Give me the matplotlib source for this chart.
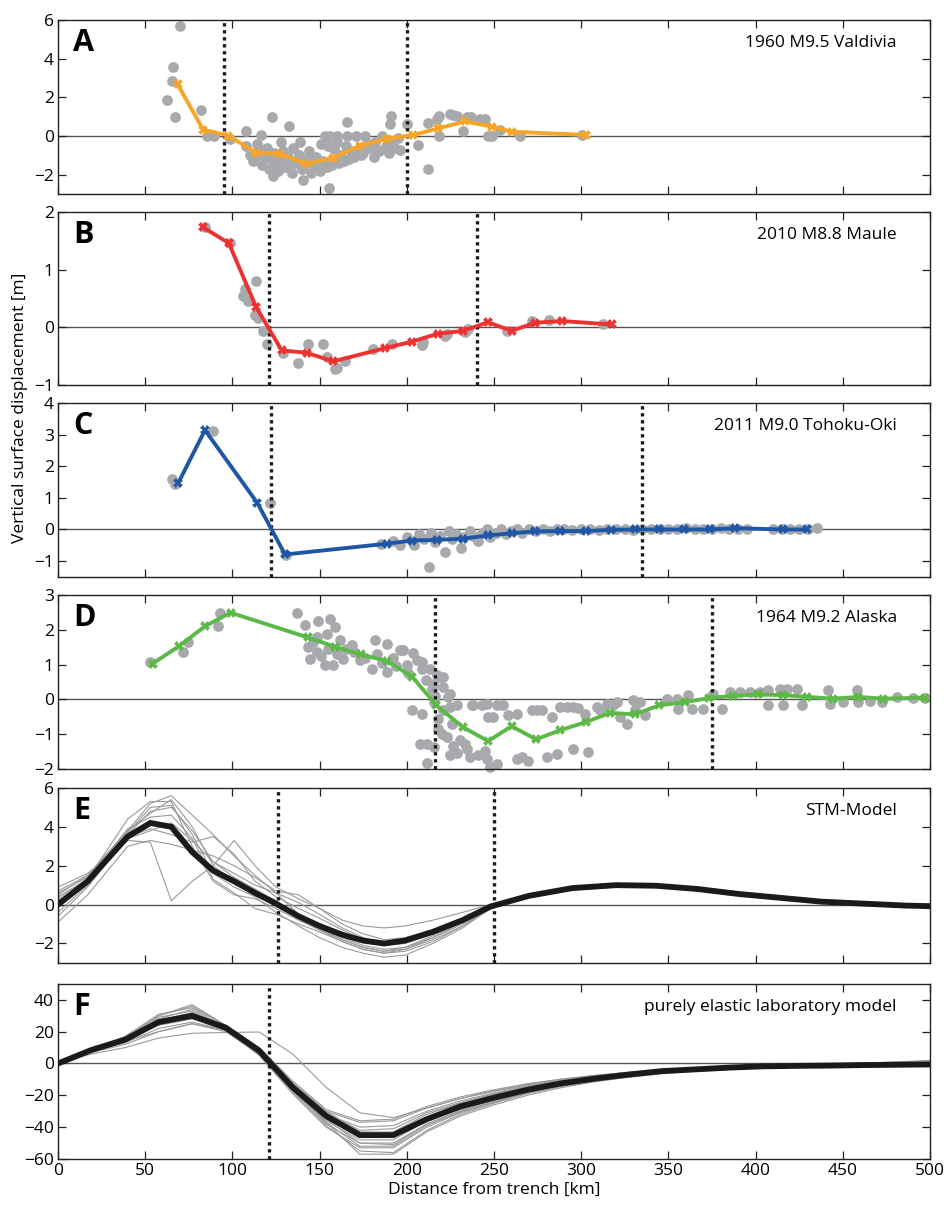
import matplotlib
matplotlib.use('Agg')
import matplotlib.pyplot as plt

plt.rcParams['font.family'] = ['Open Sans', 'DejaVu Sans']

# Panel A - 1960 M9.5 Valdivia
A_line_x = [68.6, 83.3, 97.7, 113.5, 127.3, 142.2, 157.9, 173.2, 188.5, 203.7, 218, 233.4, 248.7, 260.1, 303]
A_line_y = [2.67, 0.32, 0.02, -0.87, -0.92, -1.44, -1.13, -0.5, -0.15, 0.05, 0.39, 0.75, 0.48, 0.22, 0.05]
A_dots_x = [70, 65.8, 65.4, 62.7, 67.3, 82, 85.3, 89.4, 98.6, 107.8, 116.2, 122.5, 132.5, 165.5, 190.8, 190.4,
            200.3, 212, 155.6, 140.7, 123.5,
            108, 110, 112, 114, 116, 117, 118, 120, 121, 122, 124, 125, 127, 128, 129, 130, 132, 134, 135, 136,
            138, 139, 140, 142, 144, 145, 147, 148, 150, 151, 152, 153, 155, 156, 157, 158, 160, 160, 162, 164,
            165, 166, 168, 170, 171, 173, 175, 176, 178, 180, 182, 184, 186, 188, 190, 191, 193, 195,
            196.1, 206.6, 212.3, 217.1, 218.6, 218.6, 224.8, 226.7, 229, 232.4, 234.3, 236.6, 242, 244.8, 246.4,
            248.7, 253.4, 264.9, 300.3,
            113, 119, 126, 133, 141, 146, 154, 161, 167, 174, 181, 187]
A_dots_y = [5.7, 3.55, 2.84, 1.85, 0.99, 1.33, 0.02, 0.0, -0.15, 0.27, 0.05, 0.99, 0.53, 0.7, 1.04, 0.62,
            0.62, -1.69, -2.68, -2.29, -2.09,
            -0.5, -1.0, -1.3, -0.4, -0.7, -1.5, -1.1, -0.6, -1.7, -1.2, -0.9, -1.5, -1.3, -0.3, -0.8, -1.6, -1.1,
            -1.9, -0.6, -1.4, -1.0, -0.3, -1.7, -1.2, -0.8, -1.9, -1.5, -1.1, -1.8, -0.4, -1.3, 0.0, -0.5, 0.0,
            -1.5, -0.7, -0.3, 0.0, -1.0, -1.3, -0.5, 0.0, -0.8, -1.1, 0.0, -0.6, -0.9, 0.0, -0.4, -0.7, -0.3,
            -0.8, 0.0, -0.5, -0.9, -0.3, -0.6, -0.1,
            -0.75, -0.48, 0.67, 0.9, 1.04, 0.02, 1.13, 1.1, 1.04, 0.27, 0.96, 0.96, 0.87, 0.87, 0.02,
            0.02, 0.32, 0.02, 0.05,
            -1.1, -0.9, -1.8, -1.4, -1.5, -1.2, -1.6, -1.4, -1.2, -1.0, -1.1, -0.7]

# Panel B - 2010 M8.8 Maule
B_line_x = [83, 98, 113.5, 128.3, 142.6, 157.9, 187.5, 202.8, 217.7, 232.4, 246.5, 260.1, 273.5, 288.8, 317.5]
B_line_y = [1.74, 1.46, 0.36, -0.40, -0.44, -0.59, -0.36, -0.25, -0.11, -0.06, 0.09, -0.06, 0.08, 0.11, 0.05]
B_dots_x = [84.5, 98.5, 113.3, 107.2, 106.3, 109.1, 113, 114.9, 117.7, 119.6, 129.2, 137.8, 143.5, 151.8, 154.1,
            159.8, 158.8, 164.6, 180.8, 191.3, 208.5, 209.5, 221.9, 222.9, 233.4, 235.3, 257.3, 271.6, 281.7,
            312.7]
B_dots_y = [1.74, 1.46, 0.80, 0.66, 0.54, 0.45, 0.22, 0.17, -0.06, -0.28, -0.44, -0.61, -0.29, -0.29, -0.52,
            -0.70, -0.72, -0.58, -0.38, -0.29, -0.30, -0.26, -0.15, -0.12, -0.08, -0.03, -0.06, 0.11, 0.12,
            0.05]

# Panel C - 2011 M9.0 Tohoku-Oki
C_line_x = [69, 84.3, 114.3, 130.2, 188.5, 202.8, 217.3, 232.5, 246.5, 260.1, 273.4, 287.8, 302.6, 316.9,
            330.9, 344.8, 359, 373.9, 388.2, 415.9, 429.7]
C_line_y = [1.47, 3.14, 0.84, -0.79, -0.45, -0.35, -0.33, -0.29, -0.19, -0.12, -0.06, -0.05, -0.05, -0.01,
            0, 0, 0, 0, 0.04, 0, 0]
C_dots_x = [65.2, 67, 89, 121.6, 131, 185, 192, 196, 200, 204, 207, 210, 213, 214, 216, 219, 222, 224, 226,
            228, 231, 233, 236, 238, 241, 243, 246, 248, 251, 254, 257, 260, 263, 266, 270, 274, 278, 282,
            286, 290, 295, 300, 305, 310, 315, 320, 325, 330, 335, 340, 345, 350, 355, 360, 365, 370, 375,
            380, 385, 390, 395, 410, 415, 420, 425, 430, 435]
C_dots_y = [1.61, 1.45, 3.12, 0.84, -0.82, -0.45, -0.35, -0.5, -0.25, -0.5, -0.15, -0.3, -1.2, -0.1, -0.4,
            -0.2, -0.72, -0.05, -0.3, -0.15, -0.6, -0.25, -0.05, -0.2, -0.35, -0.1, 0.0, -0.25, -0.1, 0.0,
            -0.15, -0.05, 0.0, -0.1, 0.0, -0.05, 0.02, -0.05, 0.0, 0.02, -0.03, 0.0, 0.02, -0.03, 0.03, 0.0,
            0.02, -0.02, 0.03, 0.0, 0.03, 0.0, 0.02, 0.04, 0.0, 0.03, 0.01, 0.04, 0.02, 0.03, 0.0, 0.02, 0.0,
            0.03, 0.01, 0.02, 0.05]

# Panel D - 1964 M9.2 Alaska
D_line_x = [54.3, 69.5, 84.3, 99, 143.2, 158.8, 173.7, 188.8, 203.1, 217, 232.2, 246.7, 260.1, 274.1, 287.8,
            302.8, 316.5, 330.8, 344.8, 359.5, 373.5, 387.2, 401.5, 415.9, 429.7, 444.6, 458.9, 473.2, 497]
D_line_y = [1.03, 1.53, 2.10, 2.49, 1.78, 1.51, 1.29, 1.10, 0.65, -0.17, -0.80, -1.20, -0.77, -1.15, -0.89,
            -0.65, -0.39, -0.43, -0.17, -0.08, 0.04, 0.10, 0.14, 0.12, 0.07, 0.02, 0.07, 0.02, 0.05]
D_dots_x = [52.8, 71.5, 74.7, 92.9, 91.9,
            136.8, 141.6, 149.3, 156, 158.8, 154.1, 148.3, 143.5, 144.5, 148.3, 153.1, 157.9, 161.7, 163.6,
            168.4, 173.2, 179.9, 181.8, 188.5, 188.5, 196.1, 197, 198, 199.9, 203.7, 205.6, 208.5, 208.5,
            202.8, 208.5, 213.3, 214.3, 215.2, 215.4, 217.1, 219, 220.9, 220.9, 223.8, 224.8, 224.8, 228.6,
            218.1, 220, 222.9, 215.4, 207.6, 211.4, 226.7, 230.5, 233.4, 234.3, 244.8, 211.4, 224.8, 245.8,
            247.7, 263, 269.7, 280.2, 286, 295.5, 303.7,
            237.2, 238.1, 243, 245.8, 251.5, 255.3, 246.7, 249.6, 258.2, 263, 274.5, 277.3, 283, 287.8, 291.6,
            295.5, 302.2, 308.9, 314.6, 320.3, 322.2, 326.1, 329.9, 333.7, 336.6, 349, 354.8, 355.7, 361.4,
            363.3, 370, 375.7, 380.5, 385.3, 391, 396.8, 402.5, 407.3, 407.3, 414, 417.8, 415.9, 423.5, 426.4,
            441.7, 442.7, 450.3, 458, 458.9, 465.6, 472.3, 480.9, 490, 497,
            146, 151, 155, 160, 165, 170, 176, 183, 186, 192, 194, 201, 211, 216, 218, 221, 226, 229, 236,
            241, 252, 266, 272, 298, 311, 318, 331]
D_dots_y = [1.06, 1.35, 1.65, 2.49, 2.1,
            2.49, 2.13, 2.26, 2.32, 2.07, 1.89, 1.80, 1.51, 1.17, 1.36, 0.98, 0.98, 1.70, 1.17,
            1.56, 1.12, 0.88, 1.70, 1.60, 0.79, 1.41, 1.41, 1.41, 0.98, 1.32, 1.12, 1.08, 0.88,
            -0.32, -0.41, 0.88, 0.31, 0.45, -0.08, 0.69, 0.64, 0.35, 0.64, 0.07, 0.16, -0.22, -0.17,
            -0.84, -0.99, -1.09, -1.37, -1.28, -1.28, -1.33, -1.18, -1.28, -1.42, -1.47, -1.84, -1.61, -1.71,
            -1.95, -1.71, -1.76, -1.66, -1.57, -1.42, -1.52,
            -0.17, -0.17, -0.17, -0.12, -0.17, -0.17, -0.51, -0.51, -0.46, -0.43, -0.32, -0.32, -0.51, -0.22,
            -0.22, -0.22, -0.41, -0.22, -0.12, -0.08, -0.51, -0.70, -0.03, -0.08, -0.46, 0.02, 0.02, -0.27,
            0.12, -0.27, -0.27, 0.16, -0.27, 0.21, 0.21, 0.21, 0.21, 0.26, -0.17, 0.31, 0.31, -0.17, 0.31,
            -0.17, 0.26, -0.12, -0.08, 0.26, -0.08, -0.05, -0.08, 0.07, 0.05, 0.04,
            1.65, 1.25, 1.45, 1.3, 1.45, 1.35, 1.2, 1.3, 1.05, 1.2, 0.95, 0.75, 0.55, 0.1, -0.55, -0.3,
            -0.7, -1.55, -1.65, -1.6, -1.85, -1.65, -0.3, -0.25, -0.3, -0.15, -0.3]

# Panel E - STM-Model
E_x = [0, 17, 40, 53, 65, 77, 89, 101, 113, 125, 138, 150, 163, 175, 187, 199, 215, 232, 248, 270, 295, 320,
       343, 367, 390, 414, 438, 462, 486, 500]
E_mean = [0, 1.2, 3.5, 4.2, 4.0, 2.7, 1.75, 1.2, 0.6, 0.05, -0.6, -1.1, -1.55, -1.85, -2.0, -1.85, -1.4, -0.8,
          -0.1, 0.45, 0.85, 1.0, 0.97, 0.8, 0.55, 0.35, 0.15, 0.05, -0.05, -0.08]
E_runs = [
    [0.5, 1.5, 3.8, 5.2, 5.6, 4.6, 3.6, 2.5, 1.5, 0.6, -0.5, -1.2, -1.8, -2.2, -2.4, -2.2, -1.7, -1.0, -0.2, 0.4,
     0.85, 1.05, 1.05, 0.85, 0.6, 0.35, 0.15, 0.05, -0.05, -0.08],
    [0.9, 1.6, 3.3, 3.2, 0.2, 1.2, 2.0, 3.3, 2.0, 0.9, 0.3, -0.2, -0.8, -1.1, -1.2, -1.1, -0.8, -0.4, 0.0, 0.45,
     0.8, 0.95, 0.95, 0.8, 0.55, 0.35, 0.15, 0.05, -0.05, -0.08],
    [0.3, 1.3, 4.4, 5.3, 5.3, 3.0, 1.2, 0.5, 0.3, -0.2, -0.8, -1.3, -1.8, -2.2, -2.4, -2.3, -1.8, -1.1, -0.2,
     0.45, 0.9, 1.05, 1.0, 0.82, 0.55, 0.35, 0.15, 0.05, -0.05, -0.08],
    [-0.9, 0.5, 3.0, 3.3, 3.1, 2.8, 2.5, 2.0, 1.4, 0.7, 0.5, -0.2, -1.0, -1.5, -1.8, -1.7, -1.3, -0.7, -0.1,
     0.45, 0.85, 1.0, 0.97, 0.8, 0.55, 0.35, 0.15, 0.05, -0.05, -0.08],
    [0.6, 1.4, 3.7, 5.0, 5.1, 3.6, 1.6, 0.9, 0.4, -0.4, -1.1, -1.7, -2.2, -2.5, -2.7, -2.6, -2.0, -1.2, -0.2,
     0.4, 0.8, 0.95, 0.93, 0.78, 0.55, 0.35, 0.15, 0.05, -0.05, -0.08],
    [-0.4, 1.0, 3.4, 3.8, 4.2, 3.3, 2.2, 1.6, 1.0, 0.6, 0.1, -0.5, -1.2, -1.7, -2.0, -1.9, -1.4, -0.8, -0.1,
     0.4, 0.75, 0.9, 0.9, 0.78, 0.55, 0.35, 0.15, 0.05, -0.05, -0.08],
    [0.2, 1.2, 3.6, 4.8, 5.0, 3.8, 2.2, 1.4, 0.8, 0.2, -0.6, -1.2, -1.7, -2.1, -2.3, -2.2, -1.6, -0.9, -0.15,
     0.45, 0.9, 1.05, 1.02, 0.84, 0.57, 0.35, 0.15, 0.05, -0.05, -0.08],
    [-0.6, 0.9, 3.5, 3.9, 3.6, 3.2, 3.5, 2.6, 1.2, 0.4, -0.2, -0.7, -1.3, -1.8, -2.1, -2.0, -1.5, -0.8, -0.1,
     0.4, 0.8, 0.95, 0.95, 0.8, 0.55, 0.35, 0.15, 0.05, -0.05, -0.08],
    [0.4, 1.3, 3.9, 4.5, 4.6, 3.4, 1.3, 0.6, -0.2, -0.5, -1.0, -1.4, -1.9, -2.3, -2.5, -2.4, -1.9, -1.1, -0.2,
     0.45, 0.85, 1.0, 0.98, 0.82, 0.56, 0.35, 0.15, 0.05, -0.05, -0.08],
    [0.7, 1.5, 3.8, 4.7, 5.4, 4.0, 2.0, 1.2, 0.6, 0.0, -0.7, -1.3, -1.9, -2.3, -2.5, -2.3, -1.7, -0.9, -0.1,
     0.5, 0.9, 1.08, 1.05, 0.85, 0.58, 0.35, 0.15, 0.05, -0.05, -0.08],
]

# Panel F - purely elastic laboratory model
F_x = [0, 19.2, 38.5, 57.7, 76.9, 96.2, 115.4, 134.6, 153.8, 173.1, 192.3, 211.5, 230.8, 250, 269.2, 288.5,
       307.7, 326.9, 346.2, 365.4, 384.6, 403.8, 423.1, 442.3, 461.5, 480.8, 500]
F_mean = [0, 8.5, 15, 26, 30, 22.5, 8, -15, -33, -45, -45, -35, -27, -21.5, -16.5, -12.5, -9.5, -7, -4.8,
          -3.7, -2.6, -1.8, -1.5, -1.3, -1, -0.8, -0.6]
F_runs = [
    [0, 6, 10, 16, 19, 19.5, 19.8, 6, -15, -31, -34, -28, -22, -17, -13, -10, -7.5, -5.5, -4, -3, -2, -1.2,
     -0.6, -0.2, 0.3, 0.8, 1.5],
    [0, 7, 12, 20, 25, 21, 7, -16, -38, -50, -50, -38, -30, -24, -18, -13.5, -10, -7.5, -5.5, -4, -3, -2,
     -1.5, -1, -0.7, -0.4, -0.2],
    [0, 9, 16, 30, 37, 24, 10, -12, -30, -37, -36, -28, -22, -17.5, -13.5, -10.5, -8, -6, -4.5, -3.3, -2.5,
     -1.8, -1.2, -0.8, -0.5, -0.3, 0],
    [0, 8, 14, 28, 34, 23, 9, -13, -31, -42, -41, -31, -24.5, -19, -14.5, -11, -8.5, -6.5, -4.7, -3.5, -2.6,
     -1.9, -1.4, -1, -0.7, -0.4, -0.2],
    [0, 9, 16, 27, 32, 22, 6, -17, -36, -48, -48, -36, -28.5, -22.5, -17, -13, -10, -7.5, -5.7, -4.2, -3.1,
     -2.3, -1.7, -1.3, -1, -0.7, -0.5],
    [0, 8.5, 15, 24, 28, 21, 5, -19, -40, -53, -53, -40, -31, -24.5, -18.5, -14, -10.5, -8, -6, -4.5, -3.3,
     -2.4, -1.8, -1.4, -1, -0.8, -0.6],
    [0, 9, 17, 31, 35, 24, 9, -14, -34, -46, -46, -35, -27.5, -21.5, -16.5, -12.5, -9.5, -7.2, -5.3, -4, -3,
     -2.2, -1.6, -1.2, -0.9, -0.6, -0.4],
    [0, 7.5, 13, 22, 26, 21, 6, -18, -39, -55, -56, -42, -32, -25, -19, -14.5, -11, -8.3, -6.2, -4.6, -3.4,
     -2.5, -1.9, -1.4, -1.1, -0.8, -0.6],
    [0, 8, 15, 29, 33, 22, 8, -15, -32, -40, -39, -30, -23.5, -18.5, -14, -10.7, -8.2, -6.2, -4.6, -3.4, -2.5,
     -1.8, -1.3, -0.9, -0.6, -0.3, -0.1],
    [0, 8.5, 15.5, 25, 29, 22, 7.5, -16, -35, -50, -51, -38, -29.5, -23, -17.5, -13.5, -10.2, -7.7, -5.7,
     -4.2, -3.1, -2.3, -1.7, -1.3, -1, -0.7, -0.5],
    [0, 9, 16, 27, 31, 23, 9, -13, -30, -43, -43, -32, -25, -19.5, -15, -11.5, -8.8, -6.7, -5, -3.7, -2.7,
     -2, -1.4, -1, -0.6, -0.2, 0.3],
    [0, 8, 14, 20, 25, 20, 6, -17, -37, -52, -52, -39, -30.5, -24, -18, -13.8, -10.4, -7.9, -5.9, -4.4, -3.2,
     -2.4, -1.8, -1.4, -1.1, -0.8, -0.6],
    [0, 9, 16, 30, 36, 24, 10, -11, -29, -36, -35, -27, -21, -16.5, -12.7, -9.8, -7.5, -5.6, -4.1, -3, -2.1,
     -1.4, -0.8, -0.3, 0.3, 1, 2],
    [0, 8, 15, 26, 31, 22, 7, -17, -37, -57, -57, -43, -33, -26, -20, -15.2, -11.5, -8.7, -6.5, -4.8, -3.5,
     -2.6, -2, -1.5, -1.1, -0.8, -0.6],
]

# per panel: letter, title, ylim, yticks, dotted line positions
LETTERS = ['A', 'B', 'C', 'D', 'E', 'F']
TITLES = ['1960 M9.5 Valdivia', '2010 M8.8 Maule', '2011 M9.0 Tohoku-Oki', '1964 M9.2 Alaska',
          'STM-Model', 'purely elastic laboratory model']
YLIMS = [(-3, 6), (-1, 2), (-1.5, 4), (-2, 3), (-3, 6), (-60, 50)]
YTICKS = [[-2, 0, 2, 4, 6], [-1, 0, 1, 2], [-1, 0, 1, 2, 3, 4], [-2, -1, 0, 1, 2, 3], [-2, 0, 2, 4, 6],
          [-60, -40, -20, 0, 20, 40]]
DOTTED = [[95, 200], [121, 240], [122, 335], [216, 375], [126, 250], [121]]
XTICKS = [0, 50, 100, 150, 200, 250, 300, 350, 400, 450, 500]

# panel rectangles (bottom, height) in figure fractions
ROWS = [(0.8393, 0.1442), (0.6810, 0.1433), (0.5220, 0.1442), (0.3629, 0.1442), (0.2022, 0.1450),
        (0.0398, 0.1450)]

DOT_COLOR = '#a7a9ac'
COLORS = ['#f7a529', '#ee3131', '#1f56a5', '#5cb947']


def style_axis(ax, i):
    ax.set_xlim(0, 500)
    ax.set_ylim(*YLIMS[i])
    ax.set_xticks(XTICKS)
    ax.set_yticks(YTICKS[i])
    ax.tick_params(direction='in', length=5.5, width=0.9, top=True, right=True, labelsize=12.5,
                   color='#222222', pad=3)
    if i < 5:
        ax.tick_params(labelbottom=False)
    for s in ax.spines.values():
        s.set_linewidth(1.0)
        s.set_color('#222222')
    ax.axhline(0, color='#555555', linewidth=1.0, zorder=1)
    for xv in DOTTED[i]:
        ax.axvline(xv, color='#1a1a1a', linewidth=2.4, linestyle=(0, (1, 1.1)), zorder=4)
    ax.text(0.017, 0.955, LETTERS[i], transform=ax.transAxes, ha='left', va='top',
            fontsize=22, fontweight='bold', family=['Open Sans', 'DejaVu Sans'])
    ax.text(0.962, 0.87, TITLES[i], transform=ax.transAxes, ha='right', va='center', fontsize=12.5)


fig = plt.figure(figsize=(9.47, 12.07), dpi=100)
axes = [fig.add_axes([0.0612, b, 0.9208, h]) for b, h in ROWS]

observed = [(A_line_x, A_line_y, A_dots_x, A_dots_y),
            (B_line_x, B_line_y, B_dots_x, B_dots_y),
            (C_line_x, C_line_y, C_dots_x, C_dots_y),
            (D_line_x, D_line_y, D_dots_x, D_dots_y)]

for i, (lx, ly, dx, dy) in enumerate(observed):
    ax = axes[i]
    ax.scatter(dx, dy, s=60, color=DOT_COLOR, linewidths=0, zorder=2, clip_on=False)
    ax.plot(lx, ly, color=COLORS[i], linewidth=2.8, marker='X', markersize=7, markeredgewidth=0, zorder=5)
    style_axis(ax, i)

# model panels: thin gray runs plus thick black mean
for i, (mx, mean, runs) in enumerate([(E_x, E_mean, E_runs), (F_x, F_mean, F_runs)], start=4):
    ax = axes[i]
    for r in runs:
        ax.plot(mx, r, color='#9a9a9a', linewidth=0.8, zorder=2)
    ax.plot(mx, mean, color='#1a1a1a', linewidth=4.2, zorder=3, solid_joinstyle='miter')
    style_axis(ax, i)

axes[5].set_xlabel('Distance from trench [km]', fontsize=12.5, labelpad=2)
fig.text(0.021, 0.662, 'Vertical surface displacement [m]', rotation=90, ha='center', va='center',
         fontsize=12.5)

fig.savefig('out.png', dpi=100)
plt.close(fig)
